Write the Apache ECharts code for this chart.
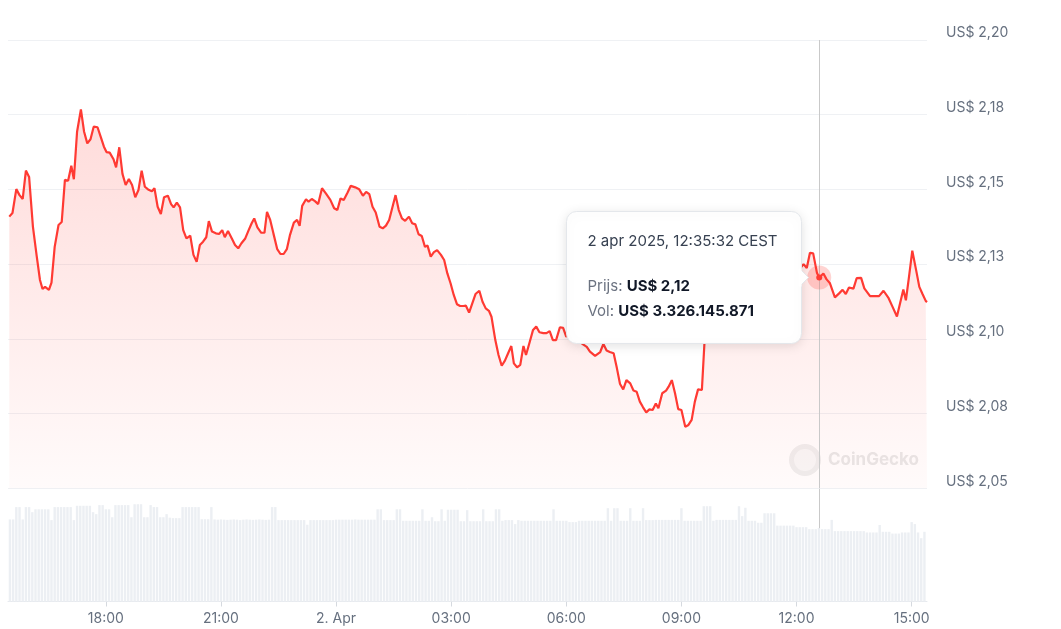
<!DOCTYPE html>
<html><head><meta charset="utf-8">
<script src="https://cdn.jsdelivr.net/npm/echarts@6/dist/echarts.min.js"></script>
<style>html,body{margin:0;padding:0;background:#fff}#c{width:1061px;height:629px}</style>
</head><body><div id="c"></div><script>
// time in minutes since 1 apr 2025 00:00 CEST
const priceTimes = [
929,934,940,945,950,955,960,966,972,977,
981,985,991,995,1000,1006,1011,1016,1021,1026,
1030,1035,1041,1046,1051,1056,1061,1067,1072,1077,
1081,1086,1092,1096,1101,1106,1111,1116,1121,1126,
1131,1136,1141,1146,1152,1156,1161,1166,1171,1177,
1182,1186,1191,1196,1201,1206,1212,1217,1222,1227,
1232,1237,1241,1246,1252,1257,1262,1266,1271,1277,
1282,1287,1292,1298,1303,1308,1312,1317,1323,1328,
1332,1337,1342,1348,1353,1358,1363,1368,1374,1379,
1383,1387,1393,1397,1402,1407,1412,1418,1424,1431,
1437,1442,1447,1452,1458,1463,1470,1476,1482,1487,
1492,1497,1502,1508,1513,1518,1523,1529,1533,1538,
1543,1548,1554,1559,1564,1569,1574,1579,1583,1588,
1593,1598,1604,1609,1614,1619,1624,1629,1634,1639,
1643,1648,1653,1658,1664,1669,1674,1679,1683,1689,
1694,1699,1704,1709,1714,1718,1723,1728,1733,1737,
1743,1748,1753,1758,1764,1769,1774,1779,1784,1790,
1795,1800,1806,1812,1818,1825,1832,1837,1845,1853,
1858,1863,1868,1874,1879,1884,1889,1894,1900,1905,
1910,1915,1920,1925,1930,1935,1940,1944,1950,1956,
1960,1965,1970,1975,1980,1986,1991,1996,2001,2006,
2012,2016,2022,2028,2034,2040,2047,2053,2059,2065,
2072,2078,2084,2090,2097,2103,2109,2115,2122,2128,
2134,2140,2147,2153,2159,2165,2171,2176,2181,2186,
2192,2195.5,2202,2207,2212,2220,2227,2232,2237,2242,
2249,2254,2261,2266,2275,2282,2289,2296,2304,2310,
2317,2322,2327,2331,2336,2341,2347,2352,2357,2362,
2364];
const prices = [
2.1409,2.1421,2.1501,2.1481,2.1468,2.1563,2.1542,2.1375,2.1275,2.1197,
2.1167,2.1174,2.1164,2.1188,2.1308,2.1381,2.1391,2.1532,2.1529,2.1579,
2.1534,2.1693,2.1768,2.1693,2.1654,2.1668,2.1710,2.1708,2.1676,2.1643,
2.1625,2.1623,2.1601,2.1574,2.1641,2.1552,2.1515,2.1535,2.1515,2.1474,
2.1498,2.1563,2.1509,2.1500,2.1494,2.1504,2.1442,2.1418,2.1474,2.1479,
2.1451,2.1440,2.1456,2.1440,2.1364,2.1336,2.1345,2.1281,2.1258,2.1314,
2.1325,2.1340,2.1394,2.1359,2.1353,2.1351,2.1364,2.1340,2.1361,2.1336,
2.1314,2.1303,2.1320,2.1336,2.1362,2.1387,2.1403,2.1373,2.1355,2.1355,
2.1425,2.1398,2.1353,2.1300,2.1284,2.1284,2.1300,2.1348,2.1389,2.1398,
2.1378,2.1445,2.1467,2.1459,2.1468,2.1461,2.1451,2.1504,2.1487,2.1465,
2.1437,2.1431,2.1470,2.1465,2.1490,2.1512,2.1507,2.1501,2.1479,2.1492,
2.1484,2.1442,2.1423,2.1375,2.1370,2.1379,2.1398,2.1448,2.1481,2.1431,
2.1403,2.1395,2.1409,2.1387,2.1383,2.1350,2.1344,2.1308,2.1312,2.1275,
2.1290,2.1297,2.1281,2.1264,2.1219,2.1186,2.1147,2.1116,2.1110,2.1110,
2.1111,2.1088,2.1119,2.1150,2.1161,2.1124,2.1102,2.1094,2.1074,2.0996,
2.0946,2.0910,2.0927,2.0952,2.0976,2.0918,2.0905,2.0913,2.0976,2.0946,
2.0991,2.1030,2.1041,2.1022,2.1019,2.1019,2.1026,2.0996,2.0996,2.1039,
2.1037,2.1007,2.1023,2.0996,2.1006,2.0983,2.0973,2.0957,2.0943,2.0956,
2.0983,2.0961,2.0956,2.0952,2.0903,2.0849,2.0831,2.0862,2.0851,2.0827,
2.0823,2.0790,2.0771,2.0754,2.0764,2.0762,2.0784,2.0768,2.0818,2.0827,
2.0840,2.0862,2.0818,2.0765,2.0762,2.0706,2.0712,2.0729,2.0790,2.0831,
2.0829,2.0986,2.1036,2.1077,2.1110,2.1130,2.1153,2.1164,2.1184,2.1190,
2.1174,2.1197,2.1210,2.1197,2.1220,2.1230,2.1220,2.1244,2.1230,2.1247,
2.1257,2.1240,2.1254,2.1264,2.1247,2.1234,2.1250,2.1237,2.1288,2.1286,
2.1220,2.1205,2.1219,2.1199,2.1187,2.1139,2.1153,2.1164,2.1150,2.1172,
2.1168,2.1203,2.1204,2.1169,2.1143,2.1143,2.1143,2.1161,2.1136,2.1108,
2.1075,2.1120,2.1165,2.1129,2.1210,2.1295,2.1230,2.1174,2.1150,2.1127,
2.1123];
// volume bars every 5 minutes starting at volStart (billions USD)
const volStart = 930, volStep = 5;
const volumes = [
3.72,3.72,4.28,4.28,3.72,4.28,4.28,4.05,4.18,4.18,
4.18,4.18,4.18,3.69,4.28,4.28,4.28,4.28,4.28,4.28,
3.69,4.34,4.34,4.34,4.34,4.34,4.05,3.96,4.37,4.37,
4.18,4.18,3.82,4.37,4.37,4.37,4.37,4.37,3.82,4.41,
4.41,4.41,3.82,3.82,4.37,4.28,4.28,3.82,3.82,3.96,
3.80,3.78,3.78,3.78,4.28,4.28,4.28,4.28,4.28,4.28,
3.73,3.73,3.73,4.28,3.72,3.71,3.72,3.71,3.70,3.71,
3.72,3.71,3.69,3.71,3.72,3.71,3.70,3.71,3.72,3.71,
3.70,3.71,4.28,4.28,3.69,3.69,3.69,3.69,3.69,3.69,
3.69,3.69,3.69,3.48,3.69,3.69,3.69,3.69,3.69,3.69,
3.69,3.69,3.71,3.71,3.71,3.71,3.71,3.71,3.72,3.71,
3.71,3.71,3.71,3.71,3.71,4.18,4.18,3.69,3.69,3.69,
3.69,4.18,4.18,3.66,3.66,3.66,3.66,3.66,3.66,4.18,
3.66,3.66,3.82,3.64,3.64,4.18,3.66,4.16,4.16,4.16,
4.16,3.64,3.64,4.14,3.64,3.64,3.64,3.64,4.18,3.64,
3.64,3.64,4.18,4.18,3.66,3.69,3.69,3.69,3.51,3.69,
3.66,3.66,3.66,3.66,3.66,3.66,3.66,3.66,3.66,3.66,
4.18,3.66,3.66,3.66,3.66,3.60,3.60,3.60,3.66,3.66,
3.66,3.66,3.66,3.66,3.66,3.66,3.66,4.23,3.66,4.23,
4.23,3.66,3.66,3.66,4.23,3.66,3.66,3.66,4.23,3.69,
3.69,3.69,3.70,3.70,3.70,3.70,3.70,3.70,3.70,3.70,
4.23,3.66,3.66,3.66,3.66,3.66,3.66,4.32,4.32,4.32,
3.66,3.70,3.70,3.70,3.70,3.70,3.70,3.70,4.32,3.87,
4.25,3.66,3.66,3.66,3.57,3.57,4.00,4.00,4.00,4.00,
3.44,3.44,3.44,3.44,3.44,3.44,3.37,3.37,3.37,3.37,
3.28,3.28,3.28,3.33,3.28,3.28,3.28,3.70,3.19,3.19,
3.19,3.19,3.19,3.19,3.19,3.19,3.19,3.19,3.13,3.13,
3.13,3.13,3.47,3.16,3.16,3.16,3.08,3.08,3.08,3.13,
3.13,3.13,3.60,3.51,3.13,2.87,3.16];
const xMin = 927, xMax = 2364;
const xTickValues = [1080,1260,1440,1620,1800,1980,2160,2340];
const xTickLabels = ['18:00','21:00','2. Apr','03:00','06:00','09:00','12:00','15:00'];
const yMin = 2.05, yMax = 2.20, yStep = 0.025;
// hovered point shown in tooltip
const tipTime = 2195.5, tipPrice = 2.1205, tipVolume = 3.326145871;
const tipTitle = '2 apr 2025, 12:35:32 CEST';
const tipPriceText = 'US$ 2,12';
const tipVolText = 'US$ 3.326.145.871';

const FONT = 'Inter, "Noto Sans", sans-serif';
const priceData = priceTimes.map((t, i) => [t, prices[i]]);
const volData = volumes.map((v, i) => [volStart + i * volStep, v]);
const fmtPrice = v => 'US$ ' + (Math.round(v * 100 + 1e-6) / 100).toFixed(2).replace('.', ',');

const chart = echarts.init(document.getElementById('c'));
const TZ = 100;
chart.setOption({
  animation: false,
  backgroundColor: '#fff',
  grid: [
    {left: 8, right: 134, top: 40, bottom: 140.7},
    {left: 8, right: 134, top: 489, bottom: 27.5}
  ],
  xAxis: [
    {type: 'value', gridIndex: 0, min: xMin, max: xMax, show: false},
    {type: 'value', gridIndex: 1, min: xMin, max: xMax,
     splitLine: {show: false},
     axisLine: {show: true, lineStyle: {color: '#e6e9ee', width: 1}},
     axisTick: {show: true, customValues: xTickValues, length: 5, lineStyle: {color: '#d5d9df'}},
     axisLabel: {show: true, customValues: xTickValues, margin: 10, color: '#66707f', fontSize: 14, fontFamily: FONT,
       formatter: v => xTickLabels[xTickValues.indexOf(v)] || ''}
    }
  ],
  yAxis: [
    {type: 'value', gridIndex: 0, position: 'right', min: yMin, max: yMax, interval: yStep,
     axisLine: {show: false}, axisTick: {show: false},
     splitLine: {show: true, lineStyle: {color: '#eff1f4', width: 1}},
     axisLabel: {margin: 19, color: '#66707f', fontSize: 14, lineHeight: 14, fontFamily: FONT, verticalAlign: 'bottom', formatter: fmtPrice}
    },
    {type: 'value', gridIndex: 1, min: 0, max: 5.1, show: false, splitLine: {show: false}}
  ],
  series: [
    {type: 'bar', xAxisIndex: 1, yAxisIndex: 1, data: volData, barWidth: 2.4, z: 2,
     itemStyle: {color: '#eceff3'}, silent: true,
     markLine: {silent: true, symbol: ['none', 'none'], label: {show: false},
       lineStyle: {color: '#c9c9c9', width: 1, type: 'solid'},
       data: [[{coord: [tipTime, 5.1]}, {coord: [tipTime, tipVolume]}]]}
    },
    {type: 'line', xAxisIndex: 0, yAxisIndex: 0, data: priceData, showSymbol: false, smooth: false,
     lineStyle: {color: '#ff3a33', width: 2.2}, z: 3,
     areaStyle: {color: new echarts.graphic.LinearGradient(0, 0, 0, 1, [
       {offset: 0, color: 'rgba(255,58,51,0.26)'},
       {offset: 1, color: 'rgba(255,58,51,0.03)'}
     ])},
     markLine: {silent: true, symbol: ['none', 'none'], label: {show: false},
       lineStyle: {color: '#c9c9c9', width: 1, type: 'solid'},
       data: [{xAxis: tipTime}]},
     markPoint: {silent: true, label: {show: false},
       data: [
         {coord: [tipTime, tipPrice], symbol: 'circle', symbolSize: 24, itemStyle: {color: 'rgba(255,58,51,0.22)'}},
         {coord: [tipTime, tipPrice], symbol: 'circle', symbolSize: 6, itemStyle: {color: '#ff3a33'}}
       ]}
    }
  ],
  graphic: [
    {type: 'group', left: 789, top: 444, silent: true, children: [
      {type: 'circle', z: 1, shape: {cx: 17, cy: 16, r: 16}, style: {fill: '#efefef'}},
      {type: 'circle', z: 1, shape: {cx: 17, cy: 16, r: 11}, style: {fill: '#f8f8f8'}},
      {type: 'text', z: 1, x: 40, y: 16, style: {text: 'CoinGecko', fill: '#e8e8e8', font: 'bold 17px ' + FONT, verticalAlign: 'middle'}}
    ]},
    {type: 'group', left: 566, top: 211, zlevel: 1, silent: true, children: [
      {type: 'rect', zlevel: 1, z: TZ, shape: {x: 0, y: 0, width: 235, height: 132, r: 10},
       style: {fill: '#fff', stroke: '#e4e7eb', lineWidth: 1, shadowBlur: 12, shadowColor: 'rgba(0,0,0,0.12)', shadowOffsetY: 2}},
      {type: 'polygon', zlevel: 1, z: TZ + 1, shape: {points: [[234, 58], [242, 66], [234, 74]]}, style: {fill: '#fff', stroke: '#e4e7eb', lineWidth: 1}},
      {type: 'rect', zlevel: 1, z: TZ + 2, shape: {x: 232, y: 57, width: 3, height: 18}, style: {fill: '#fff'}},
      {type: 'text', zlevel: 1, z: TZ + 3, x: 21, y: 30, style: {text: tipTitle, fill: '#374151', font: '15px ' + FONT, verticalAlign: 'middle'}},
      {type: 'text', zlevel: 1, z: TZ + 3, x: 21, y: 75, style: {text: '{a|Prijs: }{b|' + tipPriceText + '}', verticalAlign: 'middle',
        rich: {a: {fill: '#6b7280', fontSize: 15, fontFamily: FONT}, b: {fill: '#111827', fontSize: 15, fontWeight: 'bold', fontFamily: FONT}}}},
      {type: 'text', zlevel: 1, z: TZ + 3, x: 21, y: 100, style: {text: '{a|Vol: }{b|' + tipVolText + '}', verticalAlign: 'middle',
        rich: {a: {fill: '#6b7280', fontSize: 15, fontFamily: FONT}, b: {fill: '#111827', fontSize: 15, fontWeight: 'bold', fontFamily: FONT}}}}
    ]}
  ]
});
</script></body></html>
